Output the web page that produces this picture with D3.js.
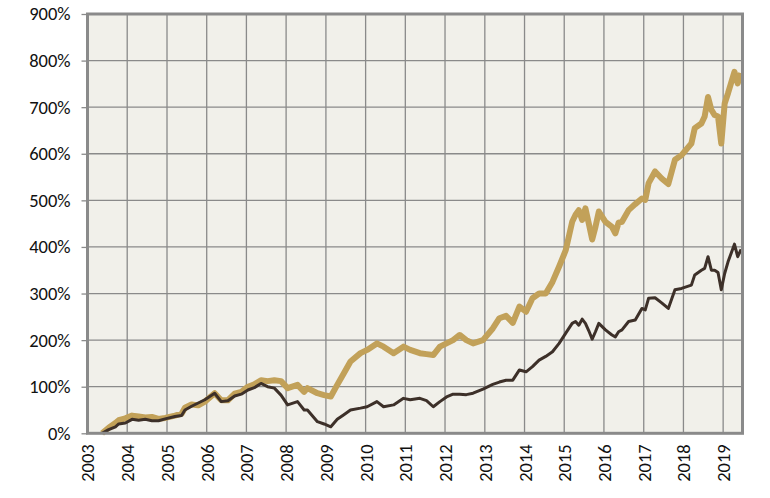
<!DOCTYPE html>
<html>
<head>
<meta charset="utf-8">
<script src="https://cdn.jsdelivr.net/npm/d3@7"></script>
<style>
  body { margin: 0; background: #fff; }
  svg text { font-family: Carlito, Calibri, "Liberation Sans", sans-serif; fill: #111; }
</style>
</head>
<body>
<svg id="chart"></svg>
<script>
var months = [
  "2003-05","2003-07","2003-09","2003-10","2003-12","2004-02","2004-04","2004-06","2004-08","2004-10",
  "2004-12","2005-03","2005-05","2005-06","2005-08","2005-10","2005-12","2006-03","2006-05","2006-07",
  "2006-09","2006-11","2007-01","2007-03","2007-05","2007-07","2007-09","2007-11","2008-01","2008-04",
  "2008-06","2008-07","2008-10","2008-12","2009-02","2009-04","2009-06","2009-08","2009-11","2010-01",
  "2010-04","2010-06","2010-09","2010-12","2011-02","2011-05","2011-07","2011-09","2011-11","2012-01",
  "2012-03","2012-05","2012-07","2012-09","2012-12","2013-03","2013-05","2013-07","2013-09","2013-11",
  "2014-01","2014-03","2014-05","2014-07","2014-09","2014-11","2015-01","2015-03","2015-04","2015-05",
  "2015-06","2015-07","2015-08","2015-09","2015-10","2015-11","2016-01","2016-03","2016-04","2016-05",
  "2016-06","2016-08","2016-10","2016-12","2017-01","2017-02","2017-04","2017-06","2017-08","2017-10",
  "2017-12","2018-03","2018-04","2018-06","2018-07","2018-08","2018-09","2018-10","2018-11","2018-12",
  "2019-01","2019-02","2019-04","2019-05","2019-06"
];

var goldSeries = [
  0,12,22,28,32,38,36,34,35,31,
  33,38,42,55,62,60,68,86,71,71,
  85,89,100,105,114,112,114,112,97,104,
  89,97,86,82,79,104,129,154,172,179,
  193,186,172,186,179,172,170,168,186,193,
  200,211,200,193,200,225,247,252,237,272,
  261,290,300,300,325,358,393,454,469,479,
  458,483,450,416,443,476,454,443,429,452,
  454,479,492,504,501,537,562,547,535,587,
  597,622,655,665,680,722,694,683,680,622,
  708,730,776,751,773
];

var brownSeries = [
  0,8,14,20,22,30,28,30,27,27,
  31,36,38,50,58,65,72,86,68,70,
  80,84,93,98,107,100,97,82,61,68,
  50,50,25,20,14,30,40,50,54,57,
  68,57,61,75,72,75,70,57,68,78,
  84,84,83,86,95,105,110,114,114,136,
  132,143,157,165,175,193,215,236,240,232,
  245,236,220,202,218,236,222,211,207,218,
  222,240,243,268,265,290,291,280,268,308,
  311,318,340,350,354,379,350,350,345,308,
  343,368,406,379,395
];

var yTicks = [0, 100, 200, 300, 400, 500, 600, 700, 800, 900];
var yearTicks = d3.range(2003, 2020);

var W = 770, H = 498;
var plotL = 87.5, plotR = 742.5, plotT = 14, plotB = 433.3;

var svg = d3.select("#chart").attr("width", W).attr("height", H);

var parseMonth = d3.timeParse("%Y-%m");
var dates = months.map(function(m) {
  var d = parseMonth(m);
  return new Date(d.getFullYear(), d.getMonth(), 15);
});

var x = d3.scaleTime()
  .domain([new Date(2003, 0, 1), new Date(2019, 5, 28)])
  .range([plotL, plotR]);

var y = d3.scaleLinear().domain([0, 900]).range([plotB, plotT]);

svg.append("rect")
  .attr("x", plotL).attr("y", plotT)
  .attr("width", plotR - plotL).attr("height", plotB - plotT)
  .attr("fill", "#f1f0ea");

// grid
svg.append("g")
  .selectAll("line")
  .data(yTicks)
  .join("line")
  .attr("x1", plotL).attr("x2", plotR)
  .attr("y1", d => y(d)).attr("y2", d => y(d))
  .attr("stroke", "#8a8a8a").attr("stroke-width", 1.3);

svg.append("g")
  .selectAll("line")
  .data(yearTicks)
  .join("line")
  .attr("x1", d => x(new Date(d, 0, 1))).attr("x2", d => x(new Date(d, 0, 1)))
  .attr("y1", plotT).attr("y2", plotB)
  .attr("stroke", "#8a8a8a").attr("stroke-width", 1.3);

// y axis
var yAxis = svg.append("g")
  .attr("transform", "translate(" + plotL + ",0)")
  .call(d3.axisLeft(y).tickValues(yTicks).tickSize(6).tickPadding(11).tickFormat(d => d + "%"));
yAxis.select(".domain").remove();
yAxis.selectAll(".tick line").attr("stroke", "#8a8a8a").attr("stroke-width", 1.3);
yAxis.selectAll("text").style("font-size", "18.5px").attr("fill", "#111");

// x axis labels
var xAxis = svg.append("g")
  .attr("transform", "translate(0," + plotB + ")")
  .call(d3.axisBottom(x).tickValues(yearTicks.map(d => new Date(d, 0, 1))).tickSize(0).tickFormat(d3.timeFormat("%Y")));
xAxis.select(".domain").remove();
xAxis.selectAll("text")
  .style("font-size", "18.5px")
  .attr("fill", "#111")
  .attr("text-anchor", "end")
  .attr("transform", "rotate(-90)")
  .attr("x", -11)
  .attr("y", 0)
  .attr("dy", "0.35em");

var line = function(vals) {
  return d3.line()
    .x((d, i) => x(dates[i]))
    .y(d => y(d))(vals);
};

svg.append("path")
  .attr("d", line(goldSeries))
  .attr("fill", "none")
  .attr("stroke", "#c2a159")
  .attr("stroke-width", 6)
  .attr("stroke-linejoin", "round");

svg.append("path")
  .attr("d", line(brownSeries))
  .attr("fill", "none")
  .attr("stroke", "#3d3029")
  .attr("stroke-width", 3)
  .attr("stroke-linejoin", "round");

// frame
svg.append("rect")
  .attr("x", plotL).attr("y", plotT)
  .attr("width", plotR - plotL).attr("height", plotB - plotT)
  .attr("fill", "none")
  .attr("stroke", "#8a8a8a")
  .attr("stroke-width", 3);
</script>
</body>
</html>
